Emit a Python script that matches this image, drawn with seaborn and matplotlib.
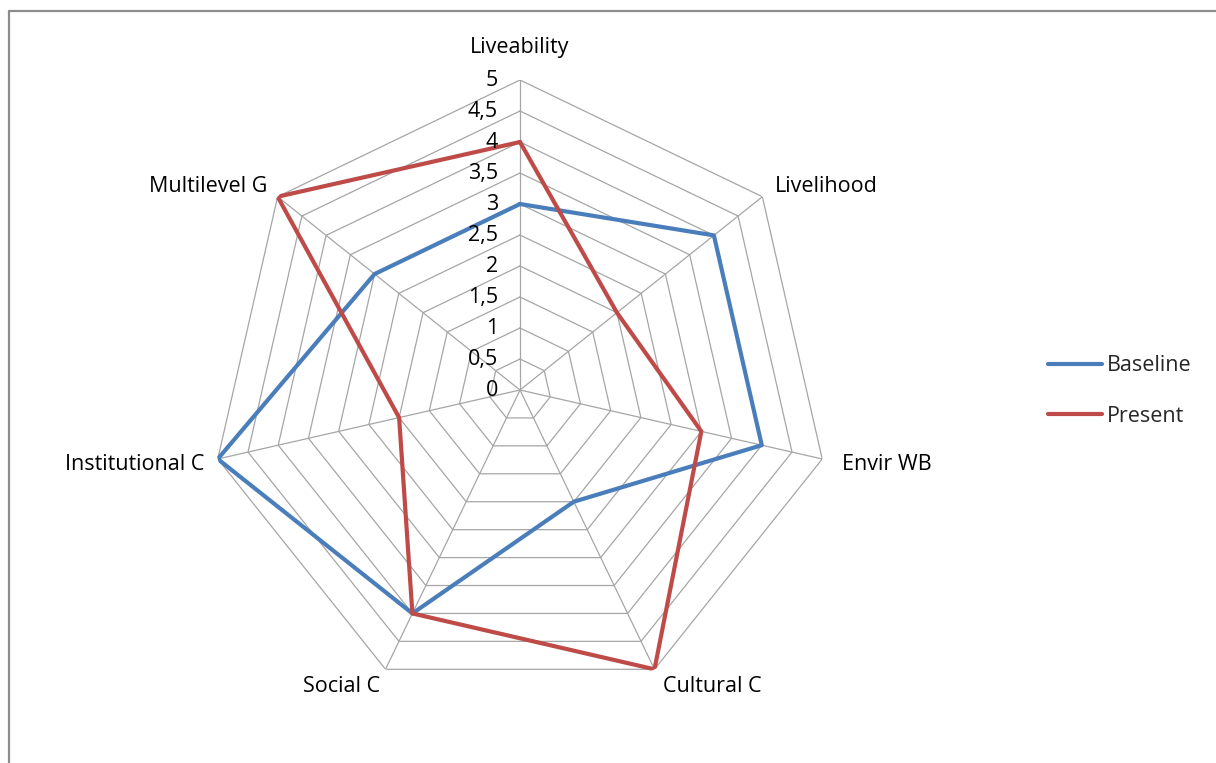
import numpy as np
import pandas as pd
import seaborn as sns
import matplotlib.pyplot as plt
from matplotlib.lines import Line2D

categories = ['Liveability', 'Livelihood', 'Envir WB', 'Cultural C',
              'Social C', 'Institutional C', 'Multilevel G']
baseline = [3, 4, 4, 2, 4, 5, 3]
present = [4, 2, 3, 5, 4, 2, 5]
series_names = ['Baseline', 'Present']
r_ticks = [0, 0.5, 1, 1.5, 2, 2.5, 3, 3.5, 4, 4.5, 5]
r_tick_labels = ['0', '0,5', '1', '1,5', '2', '2,5', '3', '3,5', '4', '4,5', '5']

colors = {'Baseline': '#4A7EBB', 'Present': '#BE4B48'}
grid_color = '#A6A6A6'
fs = 15.5

sns.set_style('white')
plt.rcParams['font.family'] = ['Open Sans', 'DejaVu Sans']

n = len(categories)
angles = np.arange(n) * 2 * np.pi / n

# long form table, closing each polygon by repeating the first point
rows = []
for name, vals in zip(series_names, [baseline, present]):
    for i in range(n + 1):
        rows.append({'series': name, 'theta': angles[i % n] if i < n else 2 * np.pi,
                     'value': vals[i % n], 'order': i})
df = pd.DataFrame(rows)

fig = plt.figure(figsize=(12.16, 7.63), dpi=100)
ax = fig.add_axes([210 / 1216, 63 / 763, 620 / 1216, 620 / 763], projection='polar')
ax.set_theta_zero_location('N')
ax.set_theta_direction(-1)
ax.grid(False)
ax.spines['polar'].set_visible(False)

# polygon grid + spokes
closed = np.append(angles, 2 * np.pi)
for r in r_ticks[1:]:
    ax.plot(closed, [r] * (n + 1), color=grid_color, lw=0.9, zorder=1)
for a in angles:
    ax.plot([a, a], [0, 5], color=grid_color, lw=0.9, zorder=1)

sns.lineplot(data=df, x='theta', y='value', hue='series', palette=colors,
             sort=False, estimator=None, units='series', lw=3, ax=ax,
             legend=False, zorder=3)
ax.set_xlabel('')
ax.set_ylabel('')
ax.set_ylim(0, 5)
ax.set_xticks([])
ax.set_yticks([])

# radial tick labels
for r, lab in zip(r_ticks, r_tick_labels):
    ax.annotate(lab, xy=(0, r), xytext=(-22, 0), textcoords='offset pixels',
                ha='right', va='center', fontsize=fs, color='black')

# category labels
label_style = [
    ((0, 33), 'center'),
    ((13, 10), 'left'),
    ((20, -6), 'left'),
    ((8, -17), 'left'),
    ((-5, -17), 'right'),
    ((-13, -6), 'right'),
    ((-10, 10), 'right'),
]
for a, cat, (off, ha) in zip(angles, categories, label_style):
    ax.annotate(cat, xy=(a, 5), xytext=off, textcoords='offset pixels',
                ha=ha, va='center', fontsize=fs, color='black')

handles = [Line2D([0], [0], color=colors[s], lw=3) for s in series_names]
fig.legend(handles, series_names, loc='center left', bbox_to_anchor=(1029 / 1216, 1 - 391 / 763),
           frameon=False, fontsize=fs, handlelength=2.5, handletextpad=0.2,
           labelspacing=1.35)

# chart area border (left and top visible)
fig.add_artist(Line2D([9 / 1216, 9 / 1216], [0, 1 - 11 / 763], color='#8C8C8C', lw=1.6))
fig.add_artist(Line2D([9 / 1216, 1], [1 - 11 / 763, 1 - 11 / 763], color='#8C8C8C', lw=1.6))

fig.savefig('out.png', dpi=100)
